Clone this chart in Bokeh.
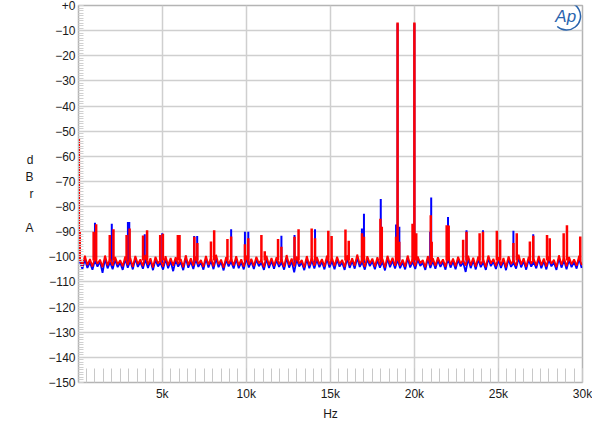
import numpy as np
from bokeh.plotting import figure
from bokeh.models import FixedTicker, Label, ColumnDataSource
from bokeh.embed import file_html
from bokeh.resources import INLINE

# ---------------- data ----------------
noise_freqs = np.arange(100, 30000, 150)  # Hz grid of noise-floor samples

red_noise = [
    -100.6,-103.6,-99.6,-103.3,-100.9,-103.9,-100.2,-102.8,-101.1,-104.1,-99.5,-103.4,-100.7,-103.5,-100.1,-103.0,-101.3,-103.8,-99.9,-103.2,
    -100.4,-104.0,-99.7,-102.9,-101.0,-103.7,-99.3,-103.1,-100.6,-104.2,-100.0,-102.7,-101.2,-103.9,-99.8,-103.4,-100.5,-103.5,-100.2,-102.9,
    -100.9,-104.1,-99.4,-103.3,-100.6,-103.6,-99.9,-102.9,-101.3,-104.0,-99.7,-103.2,-100.4,-103.8,-99.2,-103.0,-101.1,-104.3,-100.1,-102.8,
    -100.7,-103.5,-99.8,-103.4,-101.0,-103.9,-99.5,-103.1,-100.8,-103.7,-100.0,-102.6,-101.2,-104.1,-99.6,-103.3,-100.5,-103.6,-100.2,-102.9,
    -101.0,-104.0,-99.3,-103.2,-100.7,-103.8,-99.9,-102.8,-101.3,-104.2,-99.7,-103.4,-100.4,-103.5,-100.1,-103.0,-100.9,-103.9,-99.5,-103.1,
    -100.5,-103.7,-100.0,-102.9,-101.2,-104.1,-99.4,-103.3,-100.6,-103.6,-99.1,-102.9,-101.0,-104.0,-99.8,-102.7,-100.7,-103.8,-100.2,-103.2,
    -100.8,-104.2,-99.6,-103.0,-100.4,-103.5,-100.1,-103.4,-101.1,-103.9,-99.5,-103.1,-100.9,-103.7,-99.9,-102.6,-101.3,-104.1,-99.7,-103.3,
    -100.6,-103.6,-100.2,-102.9,-101.0,-104.0,-99.4,-103.2,-100.7,-103.8,-100.0,-102.8,-101.2,-103.5,-99.6,-103.4,-100.4,-103.9,-99.9,-103.0,
    -101.1,-104.1,-99.5,-102.7,-100.8,-103.7,-100.1,-103.3,-100.5,-104.2,-99.8,-102.9,-101.3,-103.6,-99.2,-103.1,-100.6,-104.0,-100.0,-102.8,
    -100.9,-103.5,-99.7,-103.4,-100.7,-103.9,-99.9,-102.8,-101.2,-104.1,-99.4,-103.2,-100.4,-103.8,-100.1,-103.0,-101.0,-103.6,-99.6,-103.3,
]

blue_noise = [
    -101.8,-104.8,-101.0,-104.4,-102.2,-105.1,-101.3,-103.9,-101.9,-106.4,-100.8,-104.6,-102.1,-104.9,-101.2,-104.1,-102.3,-105.2,-100.9,-104.3,
    -101.6,-105.0,-100.7,-104.0,-102.0,-104.7,-101.1,-104.4,-101.5,-105.3,-101.2,-103.8,-102.3,-105.1,-100.9,-104.5,-101.7,-105.7,-101.3,-103.9,
    -102.1,-105.3,-100.6,-104.3,-101.8,-104.8,-101.0,-104.0,-102.2,-105.1,-100.8,-104.2,-101.5,-104.9,-100.7,-104.1,-102.0,-105.4,-101.2,-103.8,
    -101.9,-104.6,-100.9,-104.5,-102.1,-105.0,-100.6,-104.2,-101.8,-104.8,-101.1,-103.7,-102.3,-105.2,-100.8,-104.4,-101.6,-104.7,-101.3,-104.0,
    -102.2,-105.1,-100.5,-104.3,-101.7,-106.2,-101.0,-103.8,-102.3,-105.3,-100.9,-104.5,-101.4,-104.6,-101.2,-104.1,-101.9,-105.0,-100.7,-104.2,
    -101.7,-104.9,-101.1,-103.9,-102.2,-105.2,-100.6,-104.4,-101.6,-104.7,-100.4,-104.0,-102.0,-105.1,-100.9,-103.7,-101.8,-104.9,-101.3,-104.3,
    -101.9,-105.4,-100.7,-104.1,-101.5,-104.6,-101.2,-104.5,-102.1,-105.0,-100.6,-104.2,-101.9,-104.8,-101.0,-103.6,-102.3,-105.2,-100.8,-104.4,
    -101.6,-104.7,-101.3,-104.0,-102.0,-105.1,-100.5,-104.3,-101.8,-104.9,-101.1,-103.8,-102.2,-106.0,-100.7,-104.5,-101.4,-105.0,-101.0,-104.1,
    -102.1,-105.2,-100.6,-103.7,-101.9,-104.8,-101.2,-104.4,-101.5,-105.3,-100.9,-104.0,-102.3,-104.7,-100.4,-104.2,-101.7,-105.1,-101.1,-103.9,
    -102.0,-104.6,-100.8,-104.5,-101.7,-105.0,-101.0,-103.8,-102.2,-105.2,-100.5,-104.3,-101.4,-104.9,-101.2,-104.1,-102.0,-104.7,-100.7,-104.4,
]

red_spike_freqs = [40, 90, 920, 1070, 1880, 2100, 2880, 3060, 3860, 4100, 4880, 5040,
                   5930, 6030, 6910, 7090, 7900, 8090, 8880, 9100, 9920, 10120, 10900,
                   11100, 11890, 12090, 12870, 13110, 13890, 14090, 14880, 15075, 15900,
                   16095, 16885, 17000, 17980, 18060, 18910, 19000, 19100, 19890, 20000,
                   20110, 20975, 21030, 21920, 22040, 22900, 23100, 23880, 24080, 24905,
                   25100, 25890, 26090, 26870, 27070, 27890, 28050, 28880, 29075, 29865]
red_spike_levels = [-53.0, -90.0, -90.0, -87.0, -91.3, -89.0, -91.3, -88.7, -91.5, -89.4, -91.3, -90.8,
                    -91.3, -91.3, -92.0, -94.5, -93.9, -89.4, -92.9, -91.9, -95.0, -92.6, -91.3,
                    -97.8, -92.9, -96.0, -92.0, -89.0, -88.7, -92.6, -89.6, -91.7, -89.1,
                    -93.6, -90.6, -92.0, -84.8, -88.0, -92.0, -6.8, -94.0, -86.8, -6.8,
                    -90.6, -83.5, -94.0, -87.4, -87.5, -93.2, -90.0, -90.6, -90.0, -89.6,
                    -93.2, -94.5, -90.6, -93.9, -91.6, -91.3, -92.6, -90.6, -87.4, -91.9]

blue_spike_freqs = [1000, 2000, 2960, 3040, 3960, 5000, 6900, 7080, 9100, 9920, 10120,
                    12090, 12870, 14090, 16880, 17000, 18000, 18910, 19000, 19105, 20000,
                    20940, 21000, 22000, 23100, 24080, 25890, 27070]
blue_spike_levels = [-86.4, -86.8, -86.1, -86.1, -91.0, -90.6, -91.7, -91.7, -89.0, -90.0, -90.0,
                     -91.6, -91.3, -89.0, -88.7, -82.9, -77.0, -87.1, -7.2, -88.0, -7.2,
                     -90.0, -76.4, -84.2, -89.4, -89.4, -89.6, -91.0]

x_major = [5000, 10000, 15000, 20000, 25000, 30000]
x_labels = ["5k", "10k", "15k", "20k", "25k", "30k"]
y_major = list(range(-150, 1, 10))

# ---------------- figure ----------------
FONT = "Liberation Sans"
p = figure(frame_width=504, frame_height=377, x_range=(20, 30000), y_range=(-150, 0),
           output_backend="svg", toolbar_location=None,
           min_border_left=78, min_border_right=10, min_border_top=5, min_border_bottom=31)
p.background_fill_color = "white"
p.border_fill_color = "white"
p.outline_line_color = "#b4b4b4"
p.outline_line_width = 1.5

grid_c = "#cfcfcf"
p.xgrid.ticker = FixedTicker(ticks=x_major)
p.ygrid.ticker = FixedTicker(ticks=y_major)
p.grid.grid_line_color = grid_c
p.grid.grid_line_width = 1.5

# x axis
xa = p.xaxis[0]
xa.ticker = FixedTicker(ticks=x_major, minor_ticks=list(range(500, 30001, 500)))
xa.major_label_overrides = {t: l for t, l in zip(x_major, x_labels)}
xa.axis_line_color = "#b4b4b4"
xa.major_tick_in = 14
xa.major_tick_out = 0
xa.minor_tick_in = 14
xa.minor_tick_out = 0
xa.major_tick_line_color = "#c8c8c8"
xa.minor_tick_line_color = "#c8c8c8"
xa.major_label_text_font = FONT
xa.major_label_text_font_size = "12px"
xa.major_label_text_color = "#1a1a1a"
xa.major_label_standoff = 4
xa.axis_label = "Hz"
xa.axis_label_text_font = FONT
xa.axis_label_text_font_size = "12px"
xa.axis_label_text_font_style = "normal"
xa.axis_label_text_color = "#1a1a1a"
xa.axis_label_standoff = 3

# y axis
ya = p.yaxis[0]
ya.ticker = FixedTicker(ticks=y_major, minor_ticks=list(range(-150, 1, 1)))
ya.major_label_overrides = {0: "+0"}
ya.axis_line_color = "#b4b4b4"
ya.major_tick_in = 5
ya.major_tick_out = 0
ya.minor_tick_in = 5
ya.minor_tick_out = 0
ya.major_tick_line_color = "#c8c8c8"
ya.minor_tick_line_color = "#d0d0d0"
ya.major_label_text_font = FONT
ya.major_label_text_font_size = "12px"
ya.major_label_text_color = "#1a1a1a"
ya.major_label_standoff = 3
ya.axis_label = "d\nB\nr\n \nA"
ya.axis_label_text_font = FONT
ya.axis_label_text_font_size = "12px"
ya.axis_label_text_font_style = "normal"
ya.axis_label_text_color = "#1a1a1a"
ya.axis_label_standoff = 12
if "axis_label_orientation" in ya.properties():
    ya.axis_label_orientation = "horizontal"

# ---------------- traces ----------------
blue_src = ColumnDataSource(dict(f=noise_freqs, v=blue_noise))
red_src = ColumnDataSource(dict(f=noise_freqs, v=red_noise))

p.line("f", "v", source=blue_src, line_color="#0000ff", line_width=1.8)
p.segment(x0=blue_spike_freqs, y0=[-102.5] * len(blue_spike_freqs),
          x1=blue_spike_freqs, y1=blue_spike_levels,
          line_color="#0000ff", line_width=2.0)

p.line("f", "v", source=red_src, line_color="#ff0000", line_width=1.8)
p.segment(x0=red_spike_freqs, y0=[-101.5] * len(red_spike_freqs),
          x1=red_spike_freqs, y1=red_spike_levels,
          line_color="#ff0000", line_width=2.5)

# ---------------- AP logo ----------------
p.add_layout(Label(x=29000, y=-4.2, text="Ap", text_font=FONT, text_font_size="17px",
                   text_font_style="italic", text_color="#2a64ad",
                   text_align="center", text_baseline="middle"))
p.arc(x=[29050], y=[-4.2], radius=14, radius_units="screen",
      start_angle=-2.3, end_angle=1.9, line_color="#2a64ad", line_width=1.5)

open("out.html", "w").write(file_html(p, INLINE))
